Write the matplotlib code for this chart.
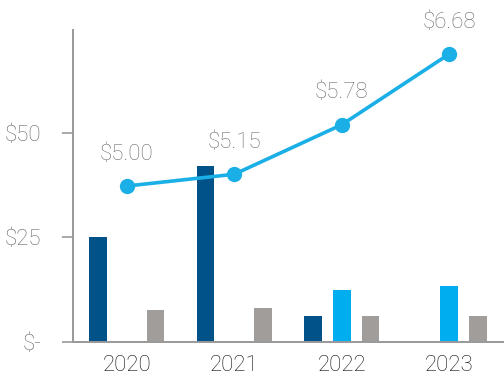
import numpy as np
from matplotlib import pyplot as plt

years = ['2020', '2021', '2022', '2023']
dark_vals = [25.0, 42.1, 6.2, 0.0]
light_vals = [0.0, 0.0, 12.4, 13.4]
gray_vals = [7.7, 8.1, 6.2, 6.2]
line_vals = [5.00, 5.15, 5.78, 6.68]
line_labels = ['$5.00', '$5.15', '$5.78', '$6.68']
ytick_vals = [0, 25, 50]
ytick_labels = ['$-', '$25', '$50']

plt.rcParams['font.family'] = ['Roboto', 'DejaVu Sans']
plt.rcParams['font.weight'] = 'light'

fig = plt.figure(figsize=(5.04, 3.9), dpi=100)
ax = fig.add_axes([0.145, 0.123, 0.855, 0.8])

x = np.arange(len(years))
w = 0.164
off = 0.267
ax.bar(x - off, dark_vals, w, color='#005288')
ax.bar(x, light_vals, w, color='#00AEEF')
ax.bar(x + off, gray_vals, w, color='#A09D9A')

ax.set_xlim(-0.50, 3.51)
ax.set_ylim(0, 74.6)
ax.set_xticks(x)
ax.set_xticklabels(years)
ax.set_yticks(ytick_vals)
ax.set_yticklabels(ytick_labels)
ax.tick_params(axis='x', length=0, pad=9, labelsize=16, labelcolor='#111111')
ax.tick_params(axis='y', length=8, width=1.2, color='#999999', pad=15,
               labelsize=16, labelcolor='#666666')
for s in ['top', 'right']:
    ax.spines[s].set_visible(False)
for s in ['left', 'bottom']:
    ax.spines[s].set_color('#999999')
    ax.spines[s].set_linewidth(1.4)

# price line on its own hidden scale
ax2 = ax.twinx()
ax2.set_ylim(3.015, 6.985)
ax2.plot(x, line_vals, color='#1AAFE6', lw=2.6, marker='o', markersize=10,
         clip_on=False, zorder=5)
for xi, v, lab in zip(x, line_vals, line_labels):
    ax2.annotate(lab, (xi, v), xytext=(0, 23), textcoords='offset points',
                 ha='center', va='center', fontsize=16, color='#6e6e6e',
                 annotation_clip=False)
ax2.axis('off')

plt.savefig('out.png', dpi=100)
